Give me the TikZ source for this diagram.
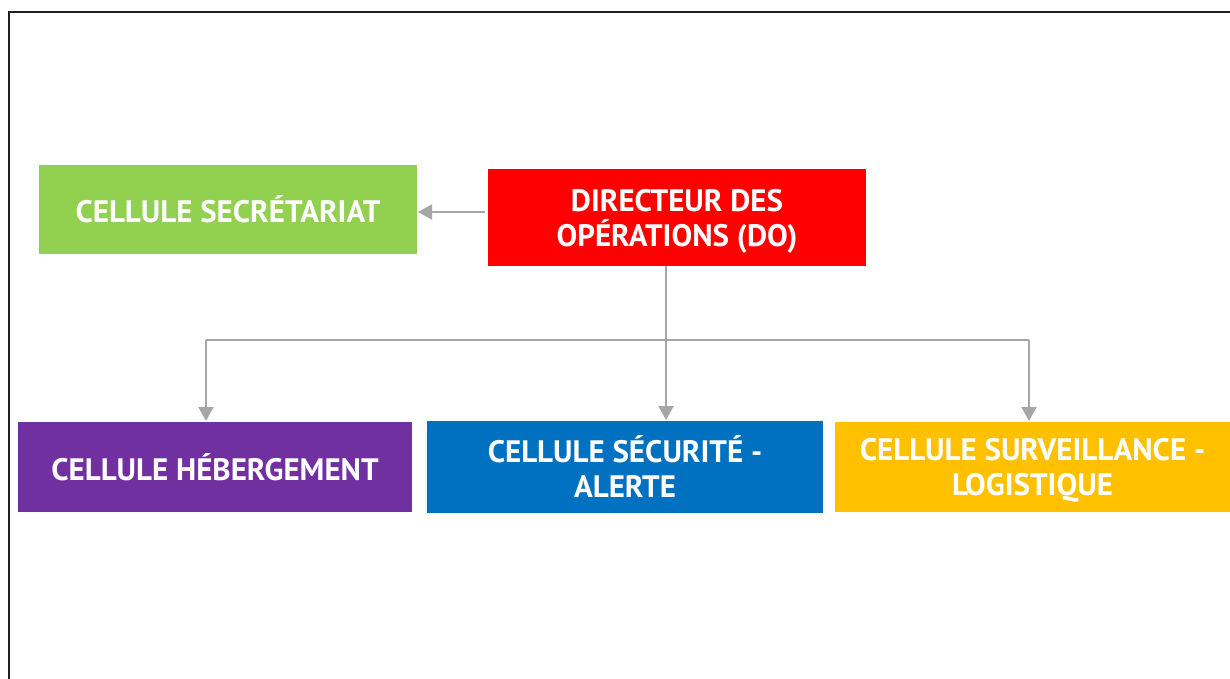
\documentclass[tikz,border=0pt]{standalone}
\usepackage{fontspec}
\setmainfont{PT Sans}
\usetikzlibrary{arrows.meta}
\definecolor{SecGreen}{HTML}{92D050}
\definecolor{DoRed}{HTML}{FF0000}
\definecolor{HebPurple}{HTML}{7030A0}
\definecolor{AlBlue}{HTML}{0070C0}
\definecolor{LogYellow}{HTML}{FFC000}
\definecolor{EdgeGray}{HTML}{A6A6A6}

\begin{document}
\begin{tikzpicture}[x=1pt, y=-1pt]
\useasboundingbox (0,0) rectangle (1230,679);
\draw[line width=2pt, black!88] (9,679) -- (9,12) -- (1230,12);

\tikzset{BoxStyle/.style = {
 shape = rectangle,
 text = white,
 font = \fontsize{31}{35}\selectfont\bfseries,
 align = center,
 text depth = 0pt,
 inner sep = 0pt,
 outer sep = 0pt} }

\node[BoxStyle, fill=SecGreen, minimum width=378pt, minimum height=89pt] (N_SEC) at (228, 209.5) {CELLULE SECRÉTARIAT};
\node[BoxStyle, fill=DoRed, minimum width=378pt, minimum height=97pt] (N_DO) at (677, 217.5) {DIRECTEUR DES\\OPÉRATIONS (DO)};
\node[BoxStyle, fill=HebPurple, minimum width=394pt, minimum height=90pt] (N_HEB) at (215, 467) {CELLULE HÉBERGEMENT};
\node[BoxStyle, fill=AlBlue, minimum width=396pt, minimum height=92pt] (N_SAL) at (625, 467) {CELLULE SÉCURITÉ -\\ALERTE};
\node[BoxStyle, fill=LogYellow, minimum width=395pt, minimum height=90pt] (N_SURV) at (1032.5, 467) {CELLULE SURVEILLANCE -\\LOGISTIQUE};

\coordinate (J_1) at (206, 340);
\coordinate (J_2) at (666, 340);
\coordinate (J_3) at (1029, 340);

\tikzset{EdgeStyle/.style = {draw = EdgeGray, line width = 2pt} }
\tikzset{TipStyle/.style = {EdgeStyle, -{Triangle[length=14pt, width=15pt]}} }

\draw[TipStyle] ([xshift=-3pt, yshift=5.5pt]N_DO.west) -- ([xshift=1pt, yshift=-2.5pt]N_SEC.east);
\draw[TipStyle] (J_2 |- N_DO.south) -- (J_2) -- ([yshift=1pt]J_2 |- N_SAL.north);
\draw[EdgeStyle] (J_1) -- (J_3);
\draw[TipStyle] (J_1) -- ([yshift=1pt]J_1 |- N_HEB.north);
\draw[TipStyle] (J_3) -- ([yshift=1pt]J_3 |- N_SURV.north);

\end{tikzpicture}
\end{document}
